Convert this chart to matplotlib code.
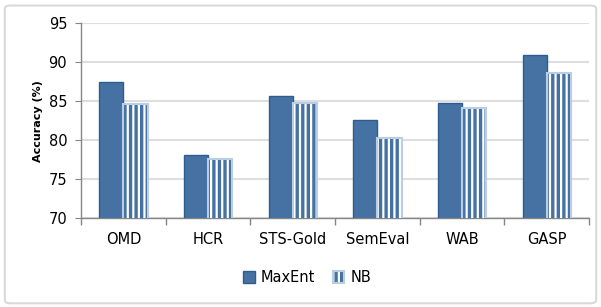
import numpy as np
import matplotlib
matplotlib.use("Agg")
from matplotlib import pyplot as plt
from matplotlib.patches import FancyBboxPatch, Rectangle

datasets = ["OMD", "HCR", "STS-Gold", "SemEval", "WAB", "GASP"]
maxent = [87.4, 78.1, 85.7, 82.6, 84.7, 90.9]
nb = [84.6, 77.5, 84.8, 80.3, 84.1, 88.6]
yticks = [70, 75, 80, 85, 90, 95]

BLUE = "#4572A3"
EDGE = "#2F5D8C"
LIGHT = "#B9CDE5"

plt.rcParams["hatch.linewidth"] = 2.4

fig = plt.figure(figsize=(6.01, 3.07), dpi=100)
ax = fig.add_axes([0.135, 0.29, 0.845, 0.635])

x = np.arange(len(datasets))
w = 0.285
ax.bar(x - w/2, maxent, w, color=BLUE, edgecolor=EDGE, linewidth=1, label="MaxEnt", zorder=3)
# striped NB bars: blue hatch on white, light outline drawn on top
ax.bar(x + w/2, nb, w, color="white", edgecolor=BLUE, hatch="|||", linewidth=0, zorder=3)
ax.bar(x + w/2, nb, w, color="none", edgecolor=LIGHT, linewidth=1.5, zorder=4)
nb_fill = Rectangle((0, 0), 1, 1, facecolor="white", edgecolor=BLUE, hatch="|||", linewidth=0)
nb_edge = Rectangle((0, 0), 1, 1, facecolor="none", edgecolor=LIGHT, linewidth=1.5)

ax.set_ylim(70, 95)
ax.set_xlim(-0.5, len(datasets) - 0.5)
ax.set_yticks(yticks)
ax.tick_params(axis="y", labelsize=10.5, length=4, color="#868686", pad=6)
ax.yaxis.grid(True, color="#DEDEDE", linewidth=1.5, zorder=0)
ax.set_axisbelow(True)

ax.set_xticks(x)
ax.set_xticklabels(datasets, fontsize=10.5)
ax.tick_params(axis="x", length=0, pad=10)
ax.set_xticks(np.arange(len(datasets) + 1) - 0.5, minor=True)
ax.tick_params(axis="x", which="minor", length=5, color="#868686", width=1)

for s in ["top", "right"]:
    ax.spines[s].set_visible(False)
for s in ["left", "bottom"]:
    ax.spines[s].set_color("#868686")
    ax.spines[s].set_linewidth(1)

fig.text(0.063, 0.607, "Accuracy (%)", rotation=90, fontsize=8, fontweight="bold",
         ha="center", va="center")

handles, labels = ax.get_legend_handles_labels()
ax.legend(handles + [(nb_fill, nb_edge)], labels + ["NB"], loc="upper center",
          bbox_to_anchor=(0.445, -0.2), ncol=2, frameon=False, fontsize=10.5,
          handlelength=0.8, handleheight=0.8, handletextpad=0.4, columnspacing=1.2)

fig.patches.append(FancyBboxPatch((0.008, 0.012), 0.984, 0.97, boxstyle="round,pad=0,rounding_size=0.01",
                                  transform=fig.transFigure, facecolor="none",
                                  edgecolor="#D9D9D9", linewidth=1.5))

fig.savefig("out.png", dpi=100)
